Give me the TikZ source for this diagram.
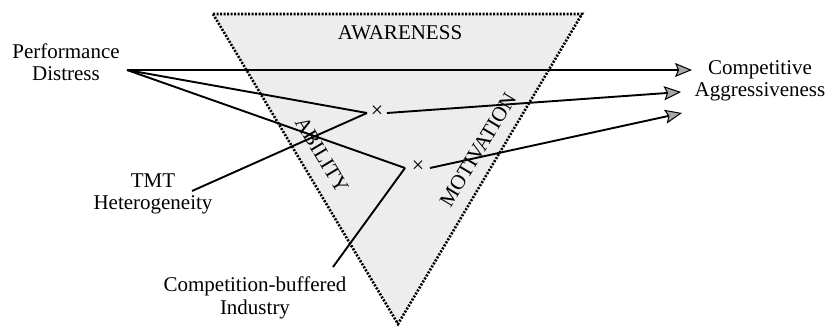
\documentclass[tikz,border=0pt]{standalone}
\usepackage{fontspec}
\setmainfont{Liberation Serif}
\usetikzlibrary{arrows.meta}
\begin{document}
\begin{tikzpicture}[x=1pt,y=-1pt,
  lbl/.style={font=\fontsize{21}{22.5}\selectfont, align=center, inner sep=0pt},
  conn/.style={line width=1.9pt, draw=black},
  arr/.style={conn, -{Stealth[length=17pt,width=14pt,inset=3pt,line width=1pt,fill=gray!70,color=black]}},
  tri/.style={fill=gray!14, draw=black, line width=2.6pt, dash pattern=on 2pt off 1.5pt},
  mult/.style={font=\fontsize{22}{22}\selectfont, inner sep=0pt}]
\useasboundingbox (0,0) rectangle (829,328);
% triangle
\coordinate (tl) at (213,14);
\coordinate (tr) at (582,14);
\coordinate (bt) at (398,324);
\path[tri] (tl) -- (tr) -- (bt) -- cycle;
\node[lbl] (aw) at (400,33) {AWARENESS};
\node[lbl, rotate=-59] (ab) at (322,155) {ABILITY};
\node[lbl, rotate=59] (mo) at (478,150) {MOTIVATION};
% text nodes
\node[lbl] (pd) at (66,62) {Performance\\Distress};
\node[lbl] (tmt) at (153,194) {TMT\\Heterogeneity};
\node[lbl] (cbi) at (255,298) {Competition-buffered\\Industry};
\node[lbl] (ca) at (760,81) {Competitive\\Aggressiveness};
% connector points
\coordinate (pdo) at (127,70);
\coordinate (tmto) at (192,191);
\coordinate (cbio) at (333,267);
\coordinate (j1) at (367,113);
\coordinate (j2) at (405,168);
\node[mult] (x1) at (377,112) {×};
\node[mult] (x2) at (418,167) {×};
\coordinate (x1o) at (387,113);
\coordinate (x2o) at (430,168);
\coordinate (a1) at (692,70);
\coordinate (a2) at (681,92);
\coordinate (a3) at (682,113);
% connectors
\draw[arr] (pdo) -- (a1);
\draw[conn] (pdo) -- (j1);
\draw[conn] (pdo) -- (j2);
\draw[conn] (tmto) -- (j1);
\draw[conn] (cbio) -- (j2);
\draw[arr] (x1o) -- (a2);
\draw[arr] (x2o) -- (a3);
\end{tikzpicture}
\end{document}
